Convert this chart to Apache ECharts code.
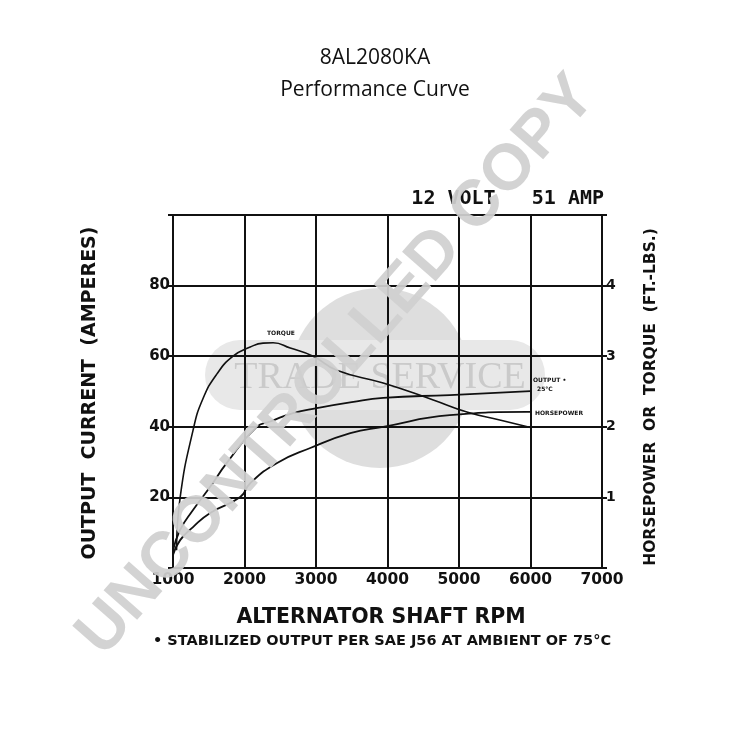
<!DOCTYPE html>
<html>
<head>
<meta charset="utf-8">
<script src="https://cdn.jsdelivr.net/npm/echarts@6/dist/echarts.min.js"></script>
<style>html,body{margin:0;padding:0;background:#fff;}#c{width:750px;height:750px;}</style>
</head>
<body>
<div id="c"></div>
<script>
// RPM values and curve readings (left axis units: amperes; torque/hp on the right axis)
const outputRpm  = [1000, 1100, 1280, 1520, 1750, 2170, 2360, 2680, 3010, 3500, 3940, 4870, 6000];
const outputAmps = [5, 10.8, 16.4, 23, 29.7, 40, 41.5, 43.9, 45.3, 47, 48.2, 49, 50.1];

const torqueRpm = [1050, 1100, 1280, 1420, 1615, 1840, 2080, 2260, 2400, 2640, 2960, 3290, 3940, 4640, 5110, 5570, 6000];
const torqueVal = [0.25, 1.0, 1.95, 2.4, 2.75, 3.0, 3.13, 3.185, 3.19, 3.115, 3.0, 2.8, 2.62, 2.38, 2.21, 2.095, 1.99];

const hpRpm = [1000, 1100, 1280, 1520, 1940, 2080, 2450, 2920, 3480, 3940, 4870, 5950, 6000];
const hpVal = [0.185, 0.395, 0.58, 0.78, 1.005, 1.2, 1.485, 1.7, 1.91, 2.0, 2.165, 2.21, 2.21];

const xTicks = [1000, 2000, 3000, 4000, 5000, 6000, 7000];
const leftTicks = [20, 40, 60, 80];
const rightTicks = [1, 2, 3, 4];

const zip = (a, b) => a.map((v, i) => [v, b[i]]);
const BOLD = '"DejaVu Sans", sans-serif';

const chart = echarts.init(document.getElementById('c'), null, {renderer: 'canvas'});
chart.setOption({
  animation: false,
  backgroundColor: '#fff',
  grid: {left: 173, right: 148, top: 215, bottom: 182, show: true, borderColor: '#111', borderWidth: 2},
  xAxis: {
    type: 'value', min: 1000, max: 7000, interval: 1000,
    axisLine: {show: true, lineStyle: {color: '#111', width: 2}},
    axisTick: {show: false},
    splitLine: {show: true, lineStyle: {color: '#111', width: 2}},
    axisLabel: {margin: 4, color: '#111', fontSize: 15.5, fontWeight: 'bold', fontFamily: BOLD,
      formatter: v => xTicks.includes(v) ? String(v) : ''}
  },
  yAxis: [{
    type: 'value', min: 0, max: 100, interval: 20, position: 'left',
    axisLine: {show: true, lineStyle: {color: '#111', width: 2}},
    axisTick: {show: true, length: 5, lineStyle: {color: '#111', width: 2}},
    splitLine: {show: true, lineStyle: {color: '#111', width: 2}},
    axisLabel: {margin: 3, color: '#111', fontSize: 15, fontWeight: 'bold', fontFamily: BOLD,
      formatter: v => leftTicks.includes(v) ? String(v) : ''}
  }, {
    type: 'value', min: 0, max: 5, interval: 1, position: 'right',
    axisLine: {show: true, lineStyle: {color: '#111', width: 2}},
    axisTick: {show: true, length: 5, lineStyle: {color: '#111', width: 2}},
    splitLine: {show: false},
    axisLabel: {margin: 4, color: '#111', fontSize: 14, fontWeight: 'bold', fontFamily: BOLD,
      formatter: v => rightTicks.includes(v) ? String(v) : ''}
  }],
  series: [
    {type: 'line', name: 'Output', yAxisIndex: 0, data: zip(outputRpm, outputAmps), smooth: true, symbol: 'none',
      lineStyle: {color: '#111', width: 1.8}, z: 5},
    {type: 'line', name: 'Torque', yAxisIndex: 1, data: zip(torqueRpm, torqueVal), smooth: true, symbol: 'none',
      lineStyle: {color: '#111', width: 1.6}, z: 5},
    {type: 'line', name: 'Horsepower', yAxisIndex: 1, data: zip(hpRpm, hpVal), smooth: true, symbol: 'none',
      lineStyle: {color: '#111', width: 1.8}, z: 5}
  ],
  graphic: [
    // background watermark: circle + band + TRADE SERVICE
    {type: 'circle', z: -10, silent: true, shape: {cx: 380, cy: 378, r: 90}, style: {fill: '#dedede'}},
    {type: 'rect', z: -9, silent: true, shape: {x: 205, y: 340, width: 340, height: 70, r: 35}, style: {fill: '#e8e8e8'}},
    {type: 'text', z: -8, silent: true, style: {x: 380, y: 378, text: 'TRADE SERVICE', align: 'center', verticalAlign: 'middle',
      font: '38px "Liberation Serif", serif', fill: '#cacaca'}},
    // titles
    {type: 'text', style: {x: 375, y: 58, text: '8AL2080KA', align: 'center', verticalAlign: 'middle', font: '21px "Open Sans", sans-serif', fill: '#111'}},
    {type: 'text', style: {x: 375, y: 90, text: 'Performance Curve', align: 'center', verticalAlign: 'middle', font: '21px "Open Sans", sans-serif', fill: '#111'}},
    {type: 'text', style: {x: 604, y: 199, text: '12 VOLT   51 AMP', align: 'right', verticalAlign: 'middle', font: 'bold 20px "DejaVu Sans Mono", monospace', fill: '#111'}},
    // axis names
    {type: 'text', rotation: Math.PI / 2, x: 90, y: 393, style: {x: 0, y: 0, text: 'OUTPUT  CURRENT  (AMPERES)', align: 'center', verticalAlign: 'middle', font: 'bold 19px "DejaVu Sans", sans-serif', fill: '#111'}},
    {type: 'text', rotation: Math.PI / 2, x: 651, y: 397, style: {x: 0, y: 0, text: 'HORSEPOWER  OR  TORQUE  (FT.-LBS.)', align: 'center', verticalAlign: 'middle', font: 'bold 15.5px "DejaVu Sans", sans-serif', fill: '#111'}},
    {type: 'text', style: {x: 381, y: 618, text: 'ALTERNATOR SHAFT RPM', align: 'center', verticalAlign: 'middle', font: 'bold 20.5px "DejaVu Sans", sans-serif', fill: '#111'}},
    {type: 'text', style: {x: 382, y: 641, text: '• STABILIZED OUTPUT PER SAE J56 AT AMBIENT OF 75°C', align: 'center', verticalAlign: 'middle', font: 'bold 14.5px "DejaVu Sans", sans-serif', fill: '#111'}},
    // curve labels
    {type: 'text', z: 20, style: {x: 267, y: 333, text: 'TORQUE', verticalAlign: 'middle', font: 'bold 6px "DejaVu Sans", sans-serif', fill: '#111'}},
    {type: 'text', z: 20, style: {x: 533, y: 380, text: 'OUTPUT •', verticalAlign: 'middle', font: 'bold 6px "DejaVu Sans", sans-serif', fill: '#111'}},
    {type: 'text', z: 20, style: {x: 537, y: 389, text: '25°C', verticalAlign: 'middle', font: 'bold 6px "DejaVu Sans", sans-serif', fill: '#111'}},
    {type: 'text', z: 20, style: {x: 535, y: 413, text: 'HORSEPOWER', verticalAlign: 'middle', font: 'bold 6px "DejaVu Sans", sans-serif', fill: '#111'}},
    // foreground watermark
    {type: 'text', z: 100, silent: true, rotation: 48.6 * Math.PI / 180, x: 337, y: 366,
      style: {x: 0, y: 0, text: 'UNCONTROLLED COPY', align: 'center', verticalAlign: 'middle', font: 'bold 65px "Liberation Sans", sans-serif', fill: 'rgba(208,208,208,0.93)'}}
  ]
});
</script>
</body>
</html>
